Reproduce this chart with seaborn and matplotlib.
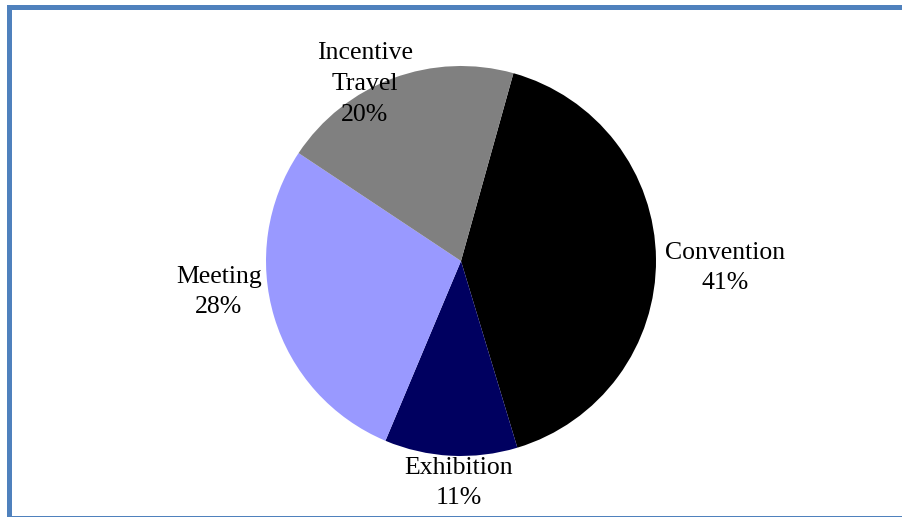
import matplotlib
matplotlib.use("Agg")
import matplotlib.pyplot as plt
from matplotlib.lines import Line2D
import seaborn as sns

# Share of events by type
categories = ["Convention", "Exhibition", "Meeting", "Incentive\nTravel"]
shares = [41, 11, 28, 20]
colors = ["#000000", "#000060", "#9999FF", "#808080"]

# Label anchor points (pixel space, origin bottom-left)
label_xy = [(725, 249), (459, 34), (219, 225), (365, 433)]

sns.set_theme(style="white")
plt.rcParams["font.family"] = ["Liberation Serif", "DejaVu Serif"]

W, H = 903, 517
fig = plt.figure(figsize=(W / 100, H / 100), dpi=100)
fig.patch.set_facecolor("white")
ax = fig.add_axes([0, 0, 1, 1])

ax.pie(shares, colors=colors, startangle=74.4, counterclock=False,
       center=(461, 256), radius=195,
       wedgeprops=dict(linewidth=0))

ax.set_xlim(0, W)
ax.set_ylim(0, H)
ax.set_aspect("equal", adjustable="box")
ax.axis("off")

for name, val, (x, y) in zip(categories, shares, label_xy):
    ax.text(x, y, f"{name}\n{val}%", ha="center", va="center",
            fontsize=18.5, color="black", linespacing=1.52)

# Outer frame: top, left and bottom edges (the right edge runs off the canvas)
fx = [W + 20, 9.5, 9.5, W + 20]
fy = [510.5, 510.5, -0.5, -0.5]
fig.lines.append(Line2D([v / W for v in fx], [v / H for v in fy],
                        transform=fig.transFigure, color="#4F81BD",
                        linewidth=3.6, solid_joinstyle="miter", zorder=10))

fig.savefig("out.png", dpi=100)
